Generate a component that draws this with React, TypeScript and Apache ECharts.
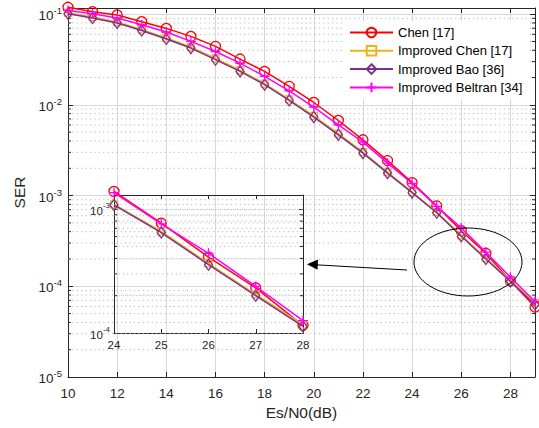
import React, { useEffect, useRef } from 'react';
import * as echarts from 'echarts';

// Es/N0 (dB)
const snr = [10, 11, 12, 13, 14, 15, 16, 17, 18, 19, 20, 21, 22, 23, 24, 25, 26, 27, 28, 29];
// Symbol error rate
const chen = [0.119, 0.1066, 0.098, 0.0826, 0.0697, 0.0569, 0.0442, 0.032, 0.0234, 0.016, 0.01063, 0.00673, 0.00412, 0.00243, 1.39e-3, 7.7e-4, 4.1e-4, 2.31e-4, 1.15e-4, 5.9e-5];
const improvedChen = [0.104, 0.093, 0.082, 0.068, 0.0547, 0.0435, 0.0325, 0.0241, 0.0172, 0.0115, 0.00755, 0.00482, 0.00302, 0.00182, 1.09e-3, 6.6e-4, 3.65e-4, 2.05e-4, 1.17e-4, 6.6e-5];
const improvedBao = [0.1013, 0.0908, 0.080, 0.0662, 0.0532, 0.0423, 0.0315, 0.0234, 0.0167, 0.0112, 0.00734, 0.00468, 0.00294, 0.00177, 1.08e-3, 6.47e-4, 3.56e-4, 2.0e-4, 1.13e-4, 6.3e-5];
const improvedBeltran = [0.110, 0.1013, 0.0908, 0.0766, 0.0636, 0.0501, 0.0388, 0.0289, 0.0206, 0.0143, 0.00946, 0.00603, 0.00389, 0.00228, 1.36e-3, 7.6e-4, 4.4e-4, 2.38e-4, 1.26e-4, 6.8e-5];

const seriesNames = ['Chen [17]', 'Improved Chen [17]', 'Improved Bao [36]', 'Improved Beltran [34]'];

const mainX = [10, 29];
const mainY = [1e-5, 0.117];
const insetX = [24, 28];
const insetY = [1e-4, 1.3e-3];

const minorMultipliers = [2, 3, 4, 5, 6, 7, 8, 9];
const mainMinorDecades = [-5, -4, -3, -2];
const insetMinorDecades = [-4];

const FONT = 'Liberation Sans, Arial, Helvetica, sans-serif';
const AX = '#262626';

const styles = [
  { color: '#FF0000', symbol: 'circle', size: 10 },
  { color: '#EDB120', symbol: 'rect', size: 7 },
  { color: '#7E2F8E', symbol: 'diamond', size: [8, 11] },
  { color: '#FF00FF', symbol: 'path://M0,5L10,5M5,0L5,10', size: 10 },
];

const allData = [chen, improvedChen, improvedBao, improvedBeltran];

function logLabel(size: number, supSize: number, margin: number) {
  return {
    margin,
    formatter: (v: number) => {
      const e = Math.log10(v);
      const r = Math.round(e);
      if (Math.abs(e - r) > 1e-6) return '';
      return `{b|10}{s|${r}}`;
    },
    rich: {
      b: { fontSize: size, fontFamily: FONT, color: AX, padding: [3, 0, 0, 0] },
      s: { fontSize: supSize, fontFamily: FONT, color: AX, verticalAlign: 'top' },
    },
  };
}

function minorSeries(xIdx: number, yIdx: number, x0: number, decades: number[]) {
  const data: number[][] = [];
  decades.forEach((d) => minorMultipliers.forEach((m) => data.push([x0, m * Math.pow(10, d)])));
  return {
    type: 'custom',
    xAxisIndex: xIdx,
    yAxisIndex: yIdx,
    z: 1,
    silent: true,
    encode: { x: 0, y: 1 },
    data,
    renderItem: (params: any, api: any) => {
      const cs = params.coordSys;
      const p = api.coord([api.value(0), api.value(1)]);
      const y = p[1];
      return {
        type: 'group',
        children: [
          { type: 'line', shape: { x1: cs.x, y1: y, x2: cs.x + cs.width, y2: y }, style: { stroke: '#b8b8b8', lineWidth: 1, lineDash: [1.2, 3.2] } },
          { type: 'line', shape: { x1: cs.x, y1: y, x2: cs.x + 3, y2: y }, style: { stroke: AX, lineWidth: 1 } },
          { type: 'line', shape: { x1: cs.x + cs.width - 3, y1: y, x2: cs.x + cs.width, y2: y }, style: { stroke: AX, lineWidth: 1 } },
        ],
      };
    },
  };
}

function dataSeries(xIdx: number, yIdx: number, range?: number[]) {
  return allData.map((arr, i) => {
    const st = styles[i];
    const pts = snr
      .map((x, j) => [x, arr[j]])
      .filter((p) => !range || (p[0] >= range[0] && p[0] <= range[1]));
    return {
      type: 'line',
      name: seriesNames[i],
      xAxisIndex: xIdx,
      yAxisIndex: yIdx,
      data: pts,
      clip: false,
      z: 3 + i,
      symbol: st.symbol,
      symbolSize: st.size,
      showAllSymbol: true,
      lineStyle: { color: st.color, width: 1.5 },
      itemStyle: { color: 'transparent', borderColor: st.color, borderWidth: 1.3 },
      emphasis: { disabled: true },
    };
  });
}

export default function App() {
  const ref = useRef<HTMLDivElement>(null);
  useEffect(() => {
    if (!ref.current) return;
    const chart = echarts.init(ref.current, undefined, { renderer: 'svg' });
    const axisLine = { show: true, onZero: false, lineStyle: { color: AX, width: 1 } };
    const option: any = {
      animation: false,
      backgroundColor: '#fff',
      textStyle: { fontFamily: FONT },
      grid: [
        { left: 68, top: 8, right: 4, bottom: 51 },
        { left: 114, top: 195, right: 236, bottom: 95 },
      ],
      legend: {
        data: seriesNames,
        orient: 'vertical',
        left: 343,
        top: 21,
        padding: [5, 6, 5, 6],
        backgroundColor: '#fff',
        itemWidth: 43,
        itemHeight: 12,
        itemGap: 5.3,
        textStyle: { fontSize: 13, fontFamily: FONT, color: '#000' },
        selectedMode: false,
      },
      xAxis: [
        {
          type: 'value', gridIndex: 0, position: 'bottom', min: mainX[0], max: mainX[1], interval: 2,
          name: 'Es/N0(dB)', nameLocation: 'middle', nameGap: 23,
          nameTextStyle: { fontSize: 15.5, fontFamily: FONT, color: AX },
          axisLine, axisTick: { inside: true, length: 5, lineStyle: { color: AX } },
          axisLabel: { fontSize: 13.5, fontFamily: FONT, color: AX, margin: 9, showMaxLabel: false },
          splitLine: { show: true, lineStyle: { color: '#d8d8d8', width: 1 } },
        },
        {
          type: 'value', gridIndex: 0, position: 'top', min: mainX[0], max: mainX[1], interval: 2,
          axisLine, axisTick: { inside: true, length: 5, lineStyle: { color: AX } },
          axisLabel: { show: false }, splitLine: { show: false },
        },
        {
          type: 'value', gridIndex: 1, position: 'bottom', min: insetX[0], max: insetX[1], interval: 1,
          axisLine, axisTick: { inside: true, length: 4, lineStyle: { color: AX } },
          axisLabel: { fontSize: 11.5, fontFamily: FONT, color: AX, margin: 6 },
          splitLine: { show: false },
        },
        {
          type: 'value', gridIndex: 1, position: 'top', min: insetX[0], max: insetX[1], interval: 1,
          axisLine, axisTick: { inside: true, length: 4, lineStyle: { color: AX } },
          axisLabel: { show: false }, splitLine: { show: false },
        },
      ],
      yAxis: [
        {
          type: 'log', logBase: 10, gridIndex: 0, position: 'left', min: mainY[0], max: mainY[1],
          name: 'SER', nameLocation: 'middle', nameGap: 39,
          nameTextStyle: { fontSize: 15.5, fontFamily: FONT, color: AX },
          axisLine, axisTick: { inside: true, length: 5, lineStyle: { color: AX } },
          axisLabel: { ...logLabel(13.5, 9.5, 6), showMaxLabel: false },
          splitLine: { show: true, lineStyle: { color: '#d8d8d8', width: 1 } },
        },
        {
          type: 'log', logBase: 10, gridIndex: 0, position: 'right', min: mainY[0], max: mainY[1],
          axisLine, axisTick: { inside: true, length: 5, lineStyle: { color: AX } },
          axisLabel: { show: false }, splitLine: { show: false },
        },
        {
          type: 'log', logBase: 10, gridIndex: 1, position: 'left', min: insetY[0], max: insetY[1],
          axisLine, axisTick: { inside: true, length: 4, lineStyle: { color: AX } },
          axisLabel: { ...logLabel(11.5, 8, 4), showMaxLabel: false },
          splitLine: { show: true, lineStyle: { color: '#b8b8b8', width: 1, type: [1.2, 3.2] } },
        },
        {
          type: 'log', logBase: 10, gridIndex: 1, position: 'right', min: insetY[0], max: insetY[1],
          axisLine, axisTick: { inside: true, length: 4, lineStyle: { color: AX } },
          axisLabel: { show: false }, splitLine: { show: false },
        },
      ],
      series: [
        minorSeries(0, 0, mainX[0], mainMinorDecades),
        minorSeries(2, 2, insetX[0], insetMinorDecades),
        ...dataSeries(0, 0),
        ...dataSeries(2, 2, insetX),
      ],
      graphic: [
        { type: 'ellipse', shape: { cx: 468, cy: 262, rx: 54, ry: 34 }, style: { fill: 'none', stroke: '#000', lineWidth: 1 }, z: 50 },
        { type: 'line', shape: { x1: 407, y1: 270, x2: 316, y2: 264.8 }, style: { stroke: '#000', lineWidth: 1 }, z: 50 },
        { type: 'polygon', shape: { points: [[307, 264.3], [318, 259.6], [317.5, 269.8]] }, style: { fill: '#000' }, z: 50 },
      ],
    };
    chart.setOption(option);
    return () => chart.dispose();
  }, []);
  return <div ref={ref} style={{ position: 'absolute', left: 0, top: 0, width: 539, height: 428 }} />;
}
